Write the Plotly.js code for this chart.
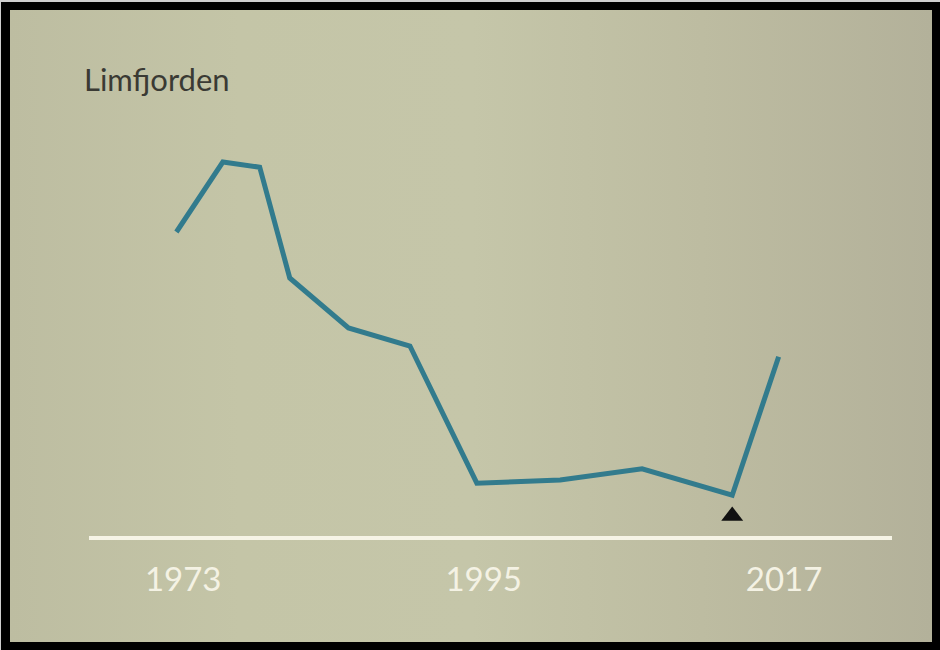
<!DOCTYPE html>
<html>
<head>
<meta charset="utf-8">
<script src="https://cdn.plot.ly/plotly-3.0.1.min.js"></script>
<style>
  html, body { margin: 0; padding: 0; background: #d8d8d8; }
  #frame {
    position: absolute; left: 0; top: 0; width: 940px; height: 650px;
    box-sizing: border-box;
    border-top: 2px solid #cfcfcf; border-left: 1px solid #cfcfcf;
    background: #000;
  }
  #inner {
    position: absolute; left: 9px; top: 8px; width: 922px; height: 632px;
    background: linear-gradient(90deg, #bdbda1 0%, #c4c5a7 25%, #c5c6a9 50%, #bdbca1 75%, #b3b19a 100%);
  }
  #chart { position: absolute; left: 0; top: 0; width: 940px; height: 650px; }
</style>
</head>
<body>
<div id="frame"><div id="inner"></div></div>
<div id="chart"></div>
<script>
// Data (index values, arbitrary units)
const years  = [1972.5, 1975.9, 1978.6, 1980.8, 1985.1, 1989.6, 1994.5, 2000.6, 2006.6, 2013.2, 2016.6];
const values = [76, 93.5, 92.2, 64.5, 52, 47.5, 13.2, 14, 16.8, 10.2, 44.8];
const markerYear  = [2013.2];
const markerValue = [5];
const tickYears  = [1973, 1995, 2017];
const tickLabels = ['1973', '1995', '2017'];
const chartTitle = 'Limfjorden';

const traces = [
  {
    x: years, y: values, type: 'scatter', mode: 'lines',
    line: { color: '#327b8d', width: 5 },
    hoverinfo: 'skip', cliponaxis: false
  },
  {
    x: markerYear, y: markerValue, type: 'scatter', mode: 'markers',
    marker: { symbol: 'triangle-up', size: 19, color: '#111111' },
    hoverinfo: 'skip', cliponaxis: false
  }
];

const layout = {
  width: 940, height: 650,
  paper_bgcolor: 'rgba(0,0,0,0)', plot_bgcolor: 'rgba(0,0,0,0)',
  showlegend: false,
  margin: { l: 89, r: 48, t: 136, b: 114 },
  title: {
    text: chartTitle,
    x: 84 / 940, xref: 'container', xanchor: 'left',
    y: 1 - 80 / 650, yref: 'container', yanchor: 'middle',
    font: { family: 'Lato, sans-serif', size: 31, color: '#3a3a34' }
  },
  xaxis: {
    range: [1966.1, 2024.9],
    showgrid: false, zeroline: false,
    showline: true, linecolor: '#f6f4e6', linewidth: 3.5,
    tickmode: 'array', tickvals: tickYears, ticktext: tickLabels,
    ticks: '', ticklabelstandoff: 12,
    tickfont: { family: 'Lato, sans-serif', size: 33, color: '#f4f2e4' },
    fixedrange: true
  },
  yaxis: {
    range: [0, 100],
    showgrid: false, zeroline: false, showline: false,
    showticklabels: false, ticks: '',
    fixedrange: true
  }
};

Plotly.newPlot('chart', traces, layout, { displayModeBar: false, staticPlot: true });
</script>
</body>
</html>
